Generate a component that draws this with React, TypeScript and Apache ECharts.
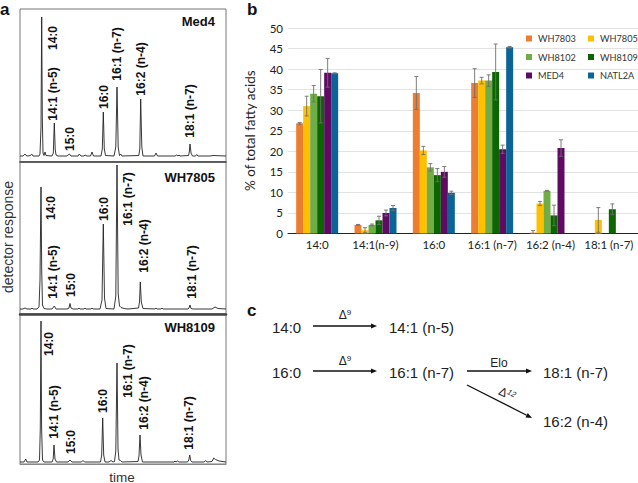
import React, { useEffect, useRef } from "react";
import * as echarts from "echarts";

const categories = ["14:0", "14:1(n-9)", "16:0", "16:1 (n-7)", "16:2 (n-4)", "18:1 (n-7)"];
const strains = ["WH7803", "WH7805", "WH8102", "WH8109", "MED4", "NATL2A"];
const strainColors = ["#ED7D31", "#FFC000", "#70AD47", "#0B6600", "#5F0A63", "#0A6496"];

const wh7803 = [26.8, 2.1, 34.2, 36.6, 0.2, null];
const wh7805 = [31, 0.8, 20.2, 37.2, 7.3, 3.3];
const wh8102 = [34, 2.1, 16.1, 37.2, 10.4, null];
const wh8109 = [33.4, 3.2, 14.2, 39.3, 4.4, 5.9];
const med4 = [39.1, 5, 15, 20.5, 20.8, null];
const natl2a = [39, 6.2, 9.9, 45.3, null, null];

const wh7803Err = [0.2, 0.1, 4, 3.5, 0.5, null];
const wh7805Err = [2.4, 0.6, 1, 0.8, 0.5, 3];
const wh8102Err = [2, 0.2, 0.9, 1.4, 0.1, null];
const wh8109Err = [6.5, 1, 1.6, 6.8, 2.5, 1.3];
const med4Err = [3.5, 0.7, 1.3, 1, 2, null];
const natl2aErr = [0.1, 0.6, 0.4, 0.2, null, null];

const barValues = [wh7803, wh7805, wh8102, wh8109, med4, natl2a];
const barErrors = [wh7803Err, wh7805Err, wh8102Err, wh8109Err, med4Err, natl2aErr];

// chromatograms: [retention time, detector response]
const med4Trace = [[0,1],[3,1],[4,2],[5,3],[6,1.5],[8,1],[10.5,1.5],[11.7,3],[13,1],[19,1],[20,3],[21,30],[21.7,140],[22.3,40],[23,4],[24,1.5],[25,5],[26,1.5],[32,1],[33.3,4],[34.3,34],[35.2,8],[36,2],[38,1],[47,1],[49.3,3],[51,1],[58,1],[59.3,3],[61,1],[64,1],[65,2],[67,1],[70.5,1],[72,5],[73.5,1],[81,1],[82.3,8],[83.3,45],[84.3,8],[85.5,1.5],[94,1],[95.8,10],[97,70],[98.2,10],[99.5,1.5],[100.7,3],[102,1],[118.8,1.5],[119.8,8],[120.7,58],[121.8,10],[123,1],[134.5,1],[136,4],[137.5,1],[155,1],[156.7,2],[158,1],[159,2],[160,1],[168.5,1.5],[169.3,5],[170,13],[171,4],[172.5,1],[175.5,1],[176.7,2.5],[178,1],[190,1],[193,1.5],[206,1]];
const wh7805Trace = [[0,1],[3,1],[5,2],[7,1],[11,1],[12,2],[13,1],[17,1],[19,3],[20,30],[21,123],[21.7,40],[22.5,5],[24,1.5],[27,1],[32,1],[34.3,4],[36,1],[47,1],[49,2],[50,6.5],[51,2],[53,1],[58,1],[59,2],[60,1],[64,1],[65,2],[66,1],[71,1],[72,2],[73,1],[80,1],[82,10],[83.3,86],[84.5,12],[86,1.5],[94,1],[95.8,14],[97,145],[98.2,16],[99.5,4],[101,2.5],[104,1.5],[108,1],[118.5,2],[119.5,8],[120.3,28],[121.3,8],[123,1.5],[135,1],[136,2],[137,1],[141,1],[142,2],[143,1],[168,1],[169,2],[170,5],[171,1.5],[173,1],[192,1],[195,3],[198,1.5],[206,1]];
const wh8109Trace = [[0,1],[4,1],[5.7,4],[7,1],[18,1],[19.5,3],[20.3,35],[21,142],[21.6,35],[22.5,3],[24,1],[32,1],[33.2,4],[34,18],[35,4],[36.5,1],[48,1],[50,3],[52,1],[61.5,1],[63,2.5],[64.5,1],[80.5,1],[81.7,8],[82.7,45],[83.7,8],[85,1],[89,1],[91,2.5],[93,1],[94.5,1.5],[95.8,12],[97,100],[98,14],[99,3],[100.5,2.5],[102,1],[118,1.5],[119,7],[120,28],[121,8],[122.5,1],[154,1],[155,2],[156,1],[157.5,2],[159,1],[167.5,1],[168.8,3],[169.7,8],[170.7,2.5],[172,1],[184,1],[185.7,2.5],[187,1],[192,1.5],[193.7,5],[195.5,3.5],[199,2],[206,1]];
const traces = [med4Trace, wh7805Trace, wh8109Trace];

const panelNames = ["Med4", "WH7805", "WH8109"];
const peakLabels = ["14:0", "14:1 (n-5)", "15:0", "16:0", "16:1 (n-7)", "16:2 (n-4)", "18:1 (n-7)"];

const PANELS = [
  { top: 9, bottom: 162, min: -5, max: 148, nameY: 21, labels: [[53,38],[53,94],[70,139],[104,97],[117,54],[141,69],[190,111]] },
  { top: 162, bottom: 314, min: -4, max: 148, nameY: 177, labels: [[51,208],[53,272],[71,285],[104,209],[128,199],[144,246],[192,272]] },
  { top: 314, bottom: 464, min: -1, max: 149, nameY: 327, labels: [[49,344],[54,412],[71,442],[103,401],[128,371],[144,403],[189,423]] },
];

const ARIAL = '"Liberation Sans", Arial, sans-serif';
const LATO = 'Lato, sans-serif';

function arrow(x1: number, y1: number, x2: number, y2: number) {
  const a = Math.atan2(y2 - y1, x2 - x1);
  const L = 6, W = 2.5;
  const bx = x2 - L * Math.cos(a), by = y2 - L * Math.sin(a);
  return [
    { type: "line", shape: { x1, y1, x2: bx, y2: by }, style: { stroke: "#111", lineWidth: 1.3 } },
    { type: "polygon", shape: { points: [[x2, y2], [bx - W * Math.sin(a), by + W * Math.cos(a)], [bx + W * Math.sin(a), by - W * Math.cos(a)]] }, style: { fill: "#111" } },
  ];
}
function pathText(text: string, x: number, y: number, align = "left") {
  return { type: "text", x, y, style: { text, x: 0, y: 0, fill: "#222", font: `15px ${ARIAL}`, align, verticalAlign: "middle" } };
}
function delta(sup: string, x: number, y: number, rotation = 0, italic = false) {
  return {
    type: "text", x, y, rotation,
    style: {
      text: `{d|Δ}{s|${sup}}`, align: "center", verticalAlign: "middle",
      rich: {
        d: { font: `12px ${ARIAL}`, fill: "#222" },
        s: { font: `${italic ? "italic " : ""}8px ${ARIAL}`, fill: "#222", padding: [0, 0, 5, 0] },
      },
    },
  };
}

function buildOption() {
  const grid: any[] = PANELS.map((p) => ({ left: 20, width: 206, top: p.top, height: p.bottom - p.top, show: true, borderColor: "#777", borderWidth: 1, backgroundColor: "#fff" }));
  grid.push({ left: 288, width: 350, top: 28, height: 205.5 });

  const xAxis: any[] = PANELS.map((_, i) => ({
    type: "value", gridIndex: i, min: 0, max: 206, silent: true,
    axisLabel: { show: false }, splitLine: { show: false },
    axisLine: { show: true, onZero: false, lineStyle: { color: i === 2 ? "#888" : "#444", width: i === 1 ? 2.5 : i === 0 ? 1.5 : 1 } },
    axisTick: { show: false },
  }));
  xAxis.push({
    type: "category", gridIndex: 3, data: categories,
    axisLine: { lineStyle: { color: "#222", width: 1 } }, axisTick: { show: false },
    axisLabel: { color: "#222", fontFamily: LATO, fontSize: 11.5, margin: 5, interval: 0 },
  });

  const yAxis: any[] = PANELS.map((p, i) => ({
    type: "value", gridIndex: i, min: p.min, max: p.max, silent: true,
    axisLabel: { show: false }, splitLine: { show: false }, axisLine: { show: false }, axisTick: { show: false },
  }));
  yAxis.push({
    type: "value", gridIndex: 3, min: 0, max: 50, interval: 5,
    name: "% of total fatty acids", nameLocation: "middle", nameGap: 31, nameRotate: 90,
    nameTextStyle: { color: "#222", fontFamily: LATO, fontSize: 13.5 },
    axisLine: { show: false }, axisTick: { show: false },
    axisLabel: { color: "#222", fontFamily: LATO, fontSize: 11.5, margin: 5 },
    splitLine: { lineStyle: { color: "#E2E2E2", width: 1 } },
  });

  const series: any[] = traces.map((t, i) => ({
    type: "line", xAxisIndex: i, yAxisIndex: i, data: t, showSymbol: false, silent: true,
    lineStyle: { color: "#222", width: 0.9 },
  }));

  strains.forEach((name, i) => {
    series.push({
      type: "bar", name, xAxisIndex: 3, yAxisIndex: 3, data: barValues[i], barWidth: 7, barGap: "0%",
      itemStyle: { color: strainColors[i] },
    });
  });
  strains.forEach((name, i) => {
    series.push({
      type: "custom", xAxisIndex: 3, yAxisIndex: 3, silent: true, z: 5,
      encode: { x: 0, y: 1 },
      data: barValues[i].map((v, c) => (v == null || barErrors[i][c] == null ? null : [c, v - (barErrors[i][c] as number), v + (barErrors[i][c] as number)])).filter(Boolean),
      renderItem: (_p: any, api: any) => {
        const c = api.value(0);
        const lo = api.coord([c, Math.max(api.value(1), 0)]);
        const hi = api.coord([c, api.value(2)]);
        const x = lo[0] + (i - 2.5) * 7;
        const stroke = { stroke: "#6E6E6E", lineWidth: 0.9 };
        return {
          type: "group",
          children: [
            { type: "line", shape: { x1: x, y1: lo[1], x2: x, y2: hi[1] }, style: stroke },
            { type: "line", shape: { x1: x - 2, y1: lo[1], x2: x + 2, y2: lo[1] }, style: stroke },
            { type: "line", shape: { x1: x - 2, y1: hi[1], x2: x + 2, y2: hi[1] }, style: stroke },
          ],
        };
      },
    });
  });

  const legendCommon = {
    orient: "vertical", icon: "rect", itemWidth: 6, itemHeight: 6, itemGap: 9.5, padding: 0,
    selectedMode: false, textStyle: { color: "#333", fontFamily: LATO, fontSize: 9.2, padding: [0, 0, 0, 1] },
  };
  const legend = [
    { ...legendCommon, left: 526, top: 34, data: [strains[0], strains[2], strains[4]] },
    { ...legendCommon, left: 588, top: 34, data: [strains[1], strains[3], strains[5]] },
  ];

  const graphic: any[] = [];
  PANELS.forEach((p, i) => {
    graphic.push({ type: "text", x: 215, y: p.nameY, style: { text: panelNames[i], fill: "#111", font: `bold 13px ${ARIAL}`, align: "right", verticalAlign: "middle" } });
    p.labels.forEach(([x, y], j) => {
      graphic.push({ type: "text", x, y, rotation: Math.PI / 2, style: { text: peakLabels[j], fill: "#111", font: `bold 12px ${ARIAL}`, align: "center", verticalAlign: "middle" } });
    });
  });
  graphic.push({ type: "text", x: 8, y: 237, rotation: Math.PI / 2, style: { text: "detector response", fill: "#333", font: `14px ${ARIAL}`, align: "center", verticalAlign: "middle" } });
  graphic.push({ type: "text", x: 122, y: 477, style: { text: "time", fill: "#333", font: `13.5px ${ARIAL}`, align: "center", verticalAlign: "middle" } });
  graphic.push({ type: "text", x: 0, y: 9, style: { text: "a", fill: "#111", font: `bold 17px ${ARIAL}`, verticalAlign: "middle" } });
  graphic.push({ type: "text", x: 247, y: 9, style: { text: "b", fill: "#111", font: `bold 17px ${ARIAL}`, verticalAlign: "middle" } });
  graphic.push({ type: "text", x: 247, y: 310, style: { text: "c", fill: "#111", font: `bold 17px ${ARIAL}`, verticalAlign: "middle" } });

  graphic.push(pathText("14:0", 272, 327), pathText("14:1 (n-5)", 389, 327), pathText("16:0", 272, 372), pathText("16:1 (n-7)", 389, 372), pathText("18:1 (n-7)", 543, 372), pathText("16:2 (n-4)", 543, 421));
  graphic.push(...arrow(313, 326, 377, 326), ...arrow(313, 371, 377, 371), ...arrow(467, 371, 532, 371), ...arrow(467, 385, 532, 418));
  graphic.push(delta("9", 345, 315), delta("9", 345, 361), delta("12", 507, 394, -0.45, true));
  graphic.push({ type: "text", x: 499, y: 363, style: { text: "Elo", fill: "#222", font: `12px ${ARIAL}`, align: "center", verticalAlign: "middle" } });

  return { animation: false, backgroundColor: "#fff", grid, xAxis, yAxis, series, legend, graphic };
}

export default function App() {
  const ref = useRef<HTMLDivElement>(null);
  useEffect(() => {
    const chart = echarts.init(ref.current!, undefined, { renderer: "svg" });
    chart.setOption(buildOption() as any);
    return () => chart.dispose();
  }, []);
  return <div ref={ref} style={{ position: "absolute", left: 0, top: 0, width: 638, height: 483 }} />;
}
